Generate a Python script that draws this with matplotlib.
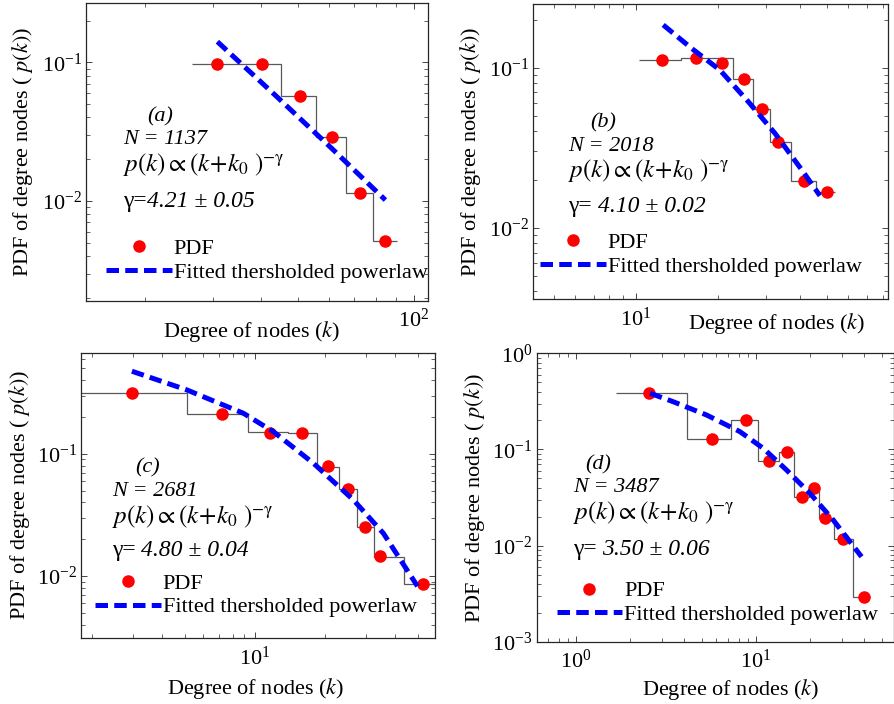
import matplotlib
matplotlib.use("Agg")
import matplotlib.pyplot as plt
from matplotlib.ticker import NullFormatter, LogLocator

plt.rcParams["font.family"] = ["Liberation Serif", "DejaVu Serif"]
plt.rcParams["mathtext.fontset"] = "stix"

W, H = 895, 704

# ---- panel (a) ----
k_a = [30.8, 40.3, 50.6, 61.3, 72.6, 84.4]
p_a = [0.0967, 0.0967, 0.0572, 0.0291, 0.01137, 0.00518]
edges_a = [26.4, 45.2, 55.7, 66.7, 78.4, 90.5]
levels_a = [0.0967, 0.0572, 0.0291, 0.01137, 0.00518]
fitk_a = [30.8, 44.0, 61.8, 84.4]
fitp_a = [0.1408, 0.0565, 0.0233, 0.01016]

# ---- panel (b) ----
k_b = [12.42, 16.59, 20.72, 24.8, 29.0, 33.1, 41.3, 49.9]
p_b = [0.1117, 0.1145, 0.1075, 0.0850, 0.0555, 0.0345, 0.0197, 0.0168]
edges_b = [10.3, 14.6, 22.7, 26.9, 31.0, 36.9, 45.6, 53.6]
levels_b = [0.112, 0.1145, 0.085, 0.0555, 0.0345, 0.0197, 0.0168]
fitk_b = [12.59, 16.0, 20.3, 25.8, 32.3, 40.5, 47.2]
fitp_b = [0.185, 0.132, 0.0967, 0.0613, 0.0389, 0.02297, 0.01585]

# ---- panel (c) ----
k_c = [2.96, 7.24, 11.6, 15.95, 20.6, 24.9, 29.6, 34.3, 52.7]
p_c = [0.3126, 0.2105, 0.149, 0.148, 0.0795, 0.0512, 0.02503, 0.01466, 0.00862]
edges_c = [1.5, 5.1, 9.36, 13.9, 18.4, 22.8, 27.3, 32.2, 43.5, 62.0]
levels_c = [0.3126, 0.2105, 0.151, 0.148, 0.0787, 0.0512, 0.025, 0.0144, 0.0086]
fitk_c = [2.96, 5.10, 8.91, 11.98, 17.8, 26.4, 35.5, 49.7]
fitp_c = [0.474, 0.333, 0.2145, 0.1517, 0.0836, 0.0419, 0.02235, 0.00825]

# ---- panel (d) ----
k_d = [2.55, 5.67, 8.8, 11.86, 14.9, 18.0, 21.1, 24.2, 30.3, 39.8]
p_d = [0.389, 0.128, 0.201, 0.0757, 0.0933, 0.0317, 0.0397, 0.0193, 0.0116, 0.00289]
edges_d = [1.67, 4.12, 7.23, 10.3, 13.4, 16.3, 19.7, 22.5, 27.1, 34.4, 43.0]
levels_d = [0.389, 0.128, 0.201, 0.0757, 0.0933, 0.0317, 0.0397, 0.0193, 0.0116, 0.00289]
fitk_d = [2.58, 3.47, 5.32, 8.15, 10.98, 14.8, 19.95, 26.9, 38.6]
fitp_d = [0.384, 0.3135, 0.228, 0.153, 0.1027, 0.061, 0.0349, 0.0184, 0.00765]

panels = [
    dict(k=k_a, p=p_a, edges=edges_a, levels=levels_a, fk=fitk_a, fp=fitp_a,
         box=(86, 428, 2.7, 300.7), xlim=(14.0, 109.0), ylim=(0.00191, 0.269),
         tag="(a)", N="1137", geq="γ=", gval="4.21 ± 0.05",
         tag_xy=(147, 117), txt_x=123, txt_y=(140, 165, 202),
         leg_xy=(106, 260.5), xlab=(0.484, -0.061), ylab=(-0.149, 0.5)),
    dict(k=k_b, p=p_b, edges=edges_b, levels=levels_b, fk=fitk_b, fp=fitp_b,
         box=(533.3, 888.3, 4.0, 299.3), xlim=(4.21, 84.0), ylim=(0.00357, 0.25),
         tag="(b)", N="2018", geq="γ= ", gval="4.10 ± 0.02",
         tag_xy=(590.7, 123), txt_x=568.3, txt_y=(146.7, 171, 206.7),
         leg_xy=(540, 254.5), xlab=(0.686, -0.039), ylab=(-0.142, 0.5)),
    dict(k=k_c, p=p_c, edges=edges_c, levels=levels_c, fk=fitk_c, fp=fitp_c,
         box=(81, 435, 352.7, 638), xlim=(1.79, 59.1), ylim=(0.00311, 0.672),
         tag="(c)", N="2681", geq="γ= ", gval="4.80 ± 0.04",
         tag_xy=(135, 467.7), txt_x=111.7, txt_y=(491.7, 516, 550.7),
         leg_xy=(95, 595.2), xlab=(0.492, -0.132), ylab=(-0.138, 0.5)),
    dict(k=k_d, p=p_d, edges=edges_d, levels=levels_d, fk=fitk_d, fp=fitp_d,
         box=(536.7, 894.3, 353.3, 641.7), xlim=(0.605, 58.7), ylim=(1e-3, 1.0),
         tag="(d)", N="3487", geq="γ= ", gval="3.50 ± 0.06",
         tag_xy=(585, 465), txt_x=572.7, txt_y=(487.7, 513, 549.3),
         leg_xy=(556.7, 603), xlab=(0.543, -0.121), ylab=(-0.140, 0.5)),
]

fig = plt.figure(figsize=(W / 100, H / 100), dpi=100)


def fx(x):
    return x / W


def fy(y):
    return 1 - y / H


for pn in panels:
    l, r, t, b = pn["box"]
    ax = fig.add_axes([fx(l), fy(b), (r - l) / W, (b - t) / H])
    ax.set_xscale("log")
    ax.set_yscale("log")

    ax.stairs(pn["levels"], pn["edges"], baseline=None, color="0.35", linewidth=0.9)
    pts, = ax.plot(pn["k"], pn["p"], "o", color="#ff0000", markersize=8,
                   markeredgecolor="#ff0000", label="PDF")
    fit, = ax.plot(pn["fk"], pn["fp"], color="#0000ff", linewidth=3.6,
                   dashes=(2.5, 1.25), label="Fitted thersholded powerlaw")

    ax.set_xlim(*pn["xlim"])
    ax.set_ylim(*pn["ylim"])
    ax.xaxis.set_minor_formatter(NullFormatter())
    ax.yaxis.set_minor_formatter(NullFormatter())
    ax.yaxis.set_minor_locator(LogLocator(base=10, subs=range(2, 10)))
    ax.tick_params(which="both", direction="in", top=True, right=True,
                   colors="0.15", labelcolor="black", labelsize=16)
    ax.tick_params(which="major", length=4, width=0.6)
    ax.tick_params(which="minor", length=3, width=0.5)
    ax.tick_params(axis="x", pad=6)
    ax.tick_params(axis="y", pad=3)
    for s in ax.spines.values():
        s.set_color("0.15")
        s.set_linewidth(0.9)

    ax.set_xlabel(r"Degree of nodes ($k$)", fontsize=16)
    ax.set_ylabel(r"PDF of degree nodes ( $p(k)$)", fontsize=16)
    ax.xaxis.set_label_coords(*pn["xlab"])
    ax.yaxis.set_label_coords(*pn["ylab"])

    tx, ty = pn["tag_xy"]
    fig.text(fx(tx), fy(ty), pn["tag"], fontsize=16, style="italic", va="center")
    y1, y2, y3 = pn["txt_y"]
    fig.text(fx(pn["txt_x"]), fy(y1), "N = " + pn["N"], fontsize=16,
             style="italic", va="center")
    fig.text(fx(pn["txt_x"]), fy(y2),
             r"$p(k)\propto(k\!+\!k_{0}\ )^{-\mathrm{\gamma}}$",
             fontsize=18, va="center")
    g = fig.text(fx(pn["txt_x"]), fy(y3), pn["geq"], fontsize=17, va="center")
    ax.annotate(pn["gval"], xy=(1, 0), xycoords=g, va="bottom", ha="left",
                fontsize=17, style="italic")

    lx, ly = pn["leg_xy"]
    ax.legend(handles=[pts, fit], loc="center left", bbox_to_anchor=(fx(lx), fy(ly)),
              bbox_transform=fig.transFigure, frameon=False, fontsize=16,
              borderpad=0, borderaxespad=0, handlelength=2.95, handletextpad=0.1,
              labelspacing=0.15, numpoints=1)

fig.savefig("out.png", dpi=100)
